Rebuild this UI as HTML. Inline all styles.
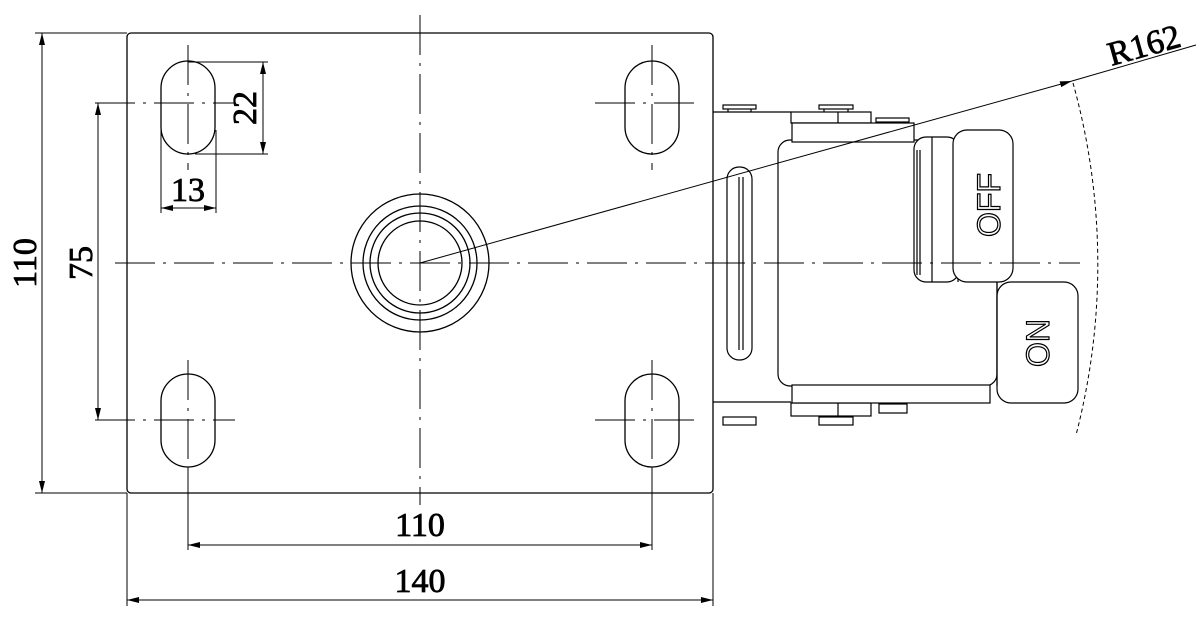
<!DOCTYPE html>
<html><head><style>html,body{margin:0;padding:0;background:#fff}svg{display:block}</style></head><body>
<svg width="1201" height="631" viewBox="0 0 1201 631" xmlns="http://www.w3.org/2000/svg" font-family="'Liberation Serif',serif">
<defs>
<marker id="a" viewBox="0 0 12 6" refX="12" refY="3" markerWidth="14" markerHeight="6" orient="auto-start-reverse" markerUnits="userSpaceOnUse"><path d="M0,0 L12,3 L0,6 Z" fill="#000"/></marker>
</defs>
<g fill="none" stroke="#000" stroke-width="1.3">
<rect x="127" y="33" width="586" height="460" rx="4"/>
<rect x="161" y="61" width="54" height="93" rx="27"/>
<rect x="625" y="61" width="54" height="93" rx="27"/>
<rect x="161" y="374" width="54" height="93" rx="27"/>
<rect x="625" y="374" width="54" height="93" rx="27"/>
<circle cx="420" cy="263" r="69"/>
<circle cx="420" cy="263" r="57"/>
<circle cx="420" cy="263" r="50"/>
<circle cx="420" cy="263" r="42"/>
</g>
<!-- mechanism -->
<g fill="none" stroke="#000" stroke-width="1.2">
<line x1="713" y1="112" x2="791" y2="112"/>
<line x1="713" y1="402" x2="791" y2="402"/>
<rect x="791" y="112" width="80" height="11"/>
<line x1="838" y1="112" x2="838" y2="123"/>
<rect x="791" y="403" width="80" height="13"/>
<line x1="838" y1="403" x2="838" y2="416"/>
<rect x="723" y="105" width="33" height="4"/><line x1="728" y1="109" x2="728" y2="112"/><line x1="751" y1="109" x2="751" y2="112"/>
<rect x="819" y="105" width="34" height="4"/><line x1="824" y1="109" x2="824" y2="112"/><line x1="848" y1="109" x2="848" y2="112"/>
<rect x="876" y="118" width="33" height="4"/>
<rect x="723" y="417" width="33" height="8"/>
<rect x="819" y="417" width="34" height="8"/>
<rect x="879" y="404" width="28" height="9"/>
<rect x="778" y="140" width="219" height="246" rx="12" fill="#fff"/>
<rect x="792" y="123" width="122" height="19" fill="#fff"/>
<rect x="792" y="385" width="198" height="18" fill="#fff"/>
<rect x="727" y="167" width="25" height="193" rx="12"/>
<line x1="739" y1="177" x2="739" y2="350"/><line x1="743" y1="177" x2="743" y2="350"/>
<rect x="914" y="137" width="45" height="145" rx="12" fill="#fff"/>
<line x1="932" y1="137" x2="932" y2="282"/>
<line x1="958" y1="148" x2="958" y2="282"/>
<line x1="917" y1="150" x2="917" y2="275"/>
<line x1="920" y1="150" x2="920" y2="275"/>
<rect x="953" y="130" width="60" height="152" rx="14" fill="#fff"/>
<rect x="997" y="282" width="81" height="121" rx="14" fill="#fff"/>
<line x1="997" y1="282" x2="997" y2="386"/>
</g>
<g font-family="'Liberation Sans',sans-serif" font-size="32" fill="#fff" stroke="#000" stroke-width="1.2" text-anchor="middle">
<text transform="translate(1000,205) rotate(-90)">OFF</text>
<text transform="translate(1049,343) rotate(-90)">ON</text>
</g>
<g stroke="#000" stroke-width="1" stroke-dasharray="40,8,3,8" fill="none">
<line x1="115" y1="263" x2="1080" y2="263"/>
<line x1="420" y1="15" x2="420" y2="505"/>
<line x1="95" y1="103" x2="235" y2="103"/>
<line x1="595" y1="103" x2="700" y2="103"/>
<line x1="95" y1="420" x2="235" y2="420"/>
<line x1="595" y1="420" x2="700" y2="420"/>
<line x1="188" y1="45" x2="188" y2="170"/>
<line x1="652" y1="45" x2="652" y2="170"/>
<line x1="188" y1="360" x2="188" y2="480"/>
<line x1="652" y1="360" x2="652" y2="480"/>
</g>
<g stroke="#000" stroke-width="1" fill="none">
<line x1="35" y1="33" x2="127" y2="33"/>
<line x1="35" y1="493" x2="127" y2="493"/>
<line x1="42" y1="33" x2="42" y2="493" marker-start="url(#a)" marker-end="url(#a)"/>
<line x1="98" y1="103" x2="98" y2="420" marker-start="url(#a)" marker-end="url(#a)"/>
<line x1="188" y1="62" x2="268" y2="62"/>
<line x1="195" y1="154" x2="268" y2="154"/>
<line x1="263" y1="62" x2="263" y2="154" marker-start="url(#a)" marker-end="url(#a)"/>
<line x1="161" y1="130" x2="161" y2="213"/>
<line x1="216" y1="130" x2="216" y2="213"/>
<line x1="161" y1="208" x2="216" y2="208" marker-start="url(#a)" marker-end="url(#a)"/>
<line x1="188" y1="470" x2="188" y2="550"/>
<line x1="652" y1="470" x2="652" y2="550"/>
<line x1="188" y1="545" x2="652" y2="545" marker-start="url(#a)" marker-end="url(#a)"/>
<line x1="127" y1="493" x2="127" y2="606"/>
<line x1="713" y1="493" x2="713" y2="606"/>
<line x1="127" y1="600" x2="713" y2="600" marker-start="url(#a)" marker-end="url(#a)"/>
<line x1="420" y1="263" x2="1072" y2="81" marker-end="url(#a)"/>
<line x1="1072" y1="81" x2="1196" y2="45"/>
<path d="M1073,83 A677,677 0 0 1 1076,435" stroke-dasharray="4,3"/>
</g>
<g font-size="34" fill="#000" stroke="#000" stroke-width="0.8" text-anchor="middle">
<text x="420" y="536">110</text>
<text x="420" y="592">140</text>
<text x="188" y="201">13</text>
<text transform="translate(36,263) rotate(-90)">110</text>
<text transform="translate(92,263) rotate(-90)">75</text>
<text transform="translate(256,108) rotate(-90)">22</text>
<text transform="translate(1147,56) rotate(-15.6)">R162</text>
</g>
</svg>
</body></html>
